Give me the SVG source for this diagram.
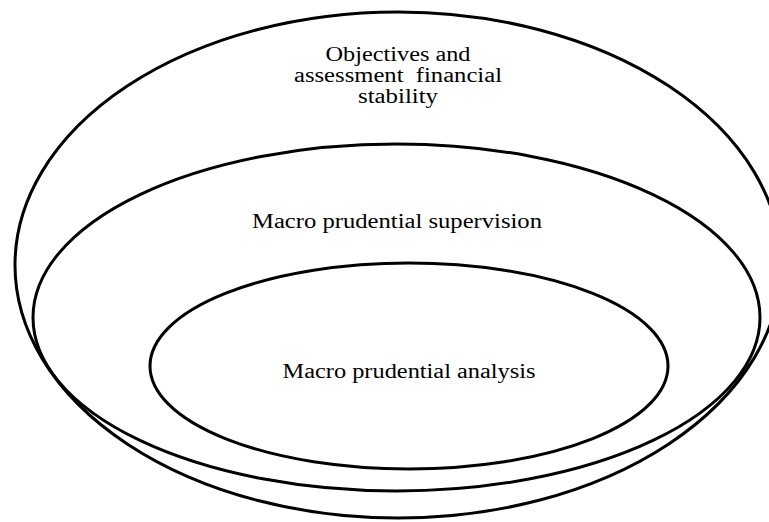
<svg xmlns="http://www.w3.org/2000/svg" width="769" height="522" viewBox="0 0 769 522">
  <style>
    .ring { fill: none; stroke: #000; stroke-width: 3; }
    .lbl { font-family: "Liberation Serif", "Times New Roman", serif; font-size: 20px; fill: #000; text-anchor: middle; white-space: pre; }
  </style>
  <rect x="0" y="0" width="769" height="522" fill="#fff"/>
  <g id="outer">
    <ellipse class="ring" cx="398" cy="265" rx="383" ry="253"/>
    <text class="lbl" x="398" y="61" textLength="145" lengthAdjust="spacingAndGlyphs">Objectives and</text>
    <text class="lbl" x="398" y="82" textLength="208" lengthAdjust="spacingAndGlyphs" xml:space="preserve">assessment  financial</text>
    <text class="lbl" x="398" y="103" textLength="80" lengthAdjust="spacingAndGlyphs">stability</text>
  </g>
  <g id="middle">
    <ellipse class="ring" cx="396.5" cy="317.5" rx="363.5" ry="173.5"/>
    <text class="lbl" x="397" y="228" textLength="290" lengthAdjust="spacingAndGlyphs">Macro prudential supervision</text>
  </g>
  <g id="inner">
    <ellipse class="ring" cx="409" cy="366" rx="259" ry="103"/>
    <text class="lbl" x="409" y="378" textLength="253" lengthAdjust="spacingAndGlyphs">Macro prudential analysis</text>
  </g>
  <g id="connectors"></g>
</svg>
